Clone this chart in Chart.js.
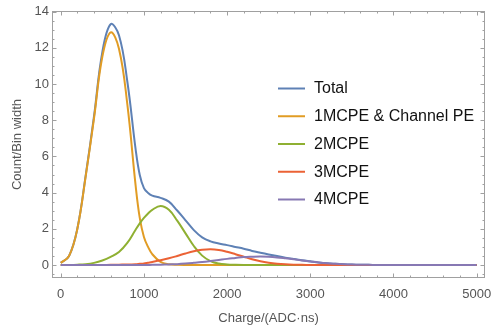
<!DOCTYPE html>
<html><head><meta charset="utf-8">
<script src="https://cdn.jsdelivr.net/npm/chart.js@4"></script>
<style>html,body{margin:0;padding:0;background:#fff;}canvas{display:block}</style>
</head><body>
<canvas id="c" width="493" height="326"></canvas>
<script>
// Charge values (ADC·ns) at which the curves were read
const charges = [0,100,200,300,400,500,600,700,800,900,950,1000,1050,1100,1200,1300,1400,1500,1600,1700,1800,1900,2000,2100,2200,2300,2400,2500,2600,2700,2800,2900,3000,3100,3200,3300,3400,3500,3600,3700,3800,3900,4000,4100,4200,4300,4400,4500,4600,4700,4800,4900,5000];
const total = [0.12,0.5,2.02,4.95,8.22,11.76,13.3,12.69,10.15,6.4,4.97,4.25,3.98,3.83,3.71,3.5,3.01,2.47,1.93,1.53,1.31,1.19,1.1,1.0,0.9,0.78,0.68,0.585,0.495,0.41,0.335,0.265,0.204,0.145,0.1,0.07,0.045,0.027,0.016,0.009,0.005,0,0,0,0,0,0,0,0,0,0,0,0];
const mcpe1 = [0.12,0.5,2.0,4.9,8.1,11.5,12.85,11.95,8.9,4.4,2.6,1.55,1.0,0.6,0.17,0.04,0.01,0,0,0,0,0,0,0,0,0,0,0,0,0,0,0,0,0,0,0,0,0,0,0,0,0,0,0,0,0,0,0,0,0,0,0,0];
const mcpe2 = [0,0.005,0.02,0.05,0.12,0.25,0.45,0.72,1.22,1.95,2.3,2.6,2.85,3.05,3.26,3.05,2.45,1.75,1.05,0.52,0.22,0.08,0.03,0.01,0,0,0,0,0,0,0,0,0,0,0,0,0,0,0,0,0,0,0,0,0,0,0,0,0,0,0,0,0];
const mcpe3 = [0,0,0,0,0,0.005,0.01,0.02,0.03,0.05,0.07,0.09,0.13,0.17,0.26,0.37,0.5,0.64,0.76,0.84,0.87,0.83,0.73,0.6,0.46,0.32,0.21,0.13,0.075,0.04,0.02,0.01,0.004,0,0,0,0,0,0,0,0,0,0,0,0,0,0,0,0,0,0,0,0];
const mcpe4 = [0,0,0,0,0,0,0,0,0,0,0.003,0.006,0.008,0.01,0.02,0.035,0.05,0.08,0.12,0.165,0.22,0.28,0.34,0.39,0.44,0.46,0.47,0.455,0.42,0.37,0.315,0.255,0.2,0.145,0.1,0.07,0.045,0.027,0.016,0.009,0.005,0,0,0,0,0,0,0,0,0,0,0,0];

const seriesNames = ['Total','1MCPE & Channel PE','2MCPE','3MCPE','4MCPE'];
const seriesValues = [total, mcpe1, mcpe2, mcpe3, mcpe4];
const seriesColors = ['#5E81B5','#E19C24','#8FB032','#EB6235','#8778B3'];

const xTickLabels = [0,1000,2000,3000,4000,5000];
const yTickLabels = [0,2,4,6,8,10,12,14];
const xMinorTicks = [200,400,600,800,1200,1400,1600,1800,2200,2400,2600,2800,3200,3400,3600,3800,4200,4400,4600,4800];
const yMinorTicks = [-0.5,0.5,1,1.5,2.5,3,3.5,4.5,5,5.5,6.5,7,7.5,8.5,9,9.5,10.5,11,11.5,12.5,13,13.5];

const FONT = '"Liberation Sans", Arial, sans-serif';
const FRAME = '#a0a0a0';
const LABEL = '#555555';

const framePlugin = {
  id: 'frame',
  afterDatasetsDraw(chart) {
    const {ctx, chartArea: a, scales: {x, y}} = chart;
    ctx.save();
    ctx.strokeStyle = FRAME;
    ctx.lineWidth = 1;
    ctx.strokeRect(a.left + 0.5, a.top + 0.5, a.right - a.left - 1, a.bottom - a.top - 1);
    ctx.beginPath();
    const xt = (v, len) => {
      const px = Math.round(x.getPixelForValue(v)) + 0.5;
      ctx.moveTo(px, a.bottom); ctx.lineTo(px, a.bottom - len);
      ctx.moveTo(px, a.top); ctx.lineTo(px, a.top + len);
    };
    const yt = (v, len) => {
      const py = Math.round(y.getPixelForValue(v)) + 0.5;
      ctx.moveTo(a.left, py); ctx.lineTo(a.left + len, py);
      ctx.moveTo(a.right, py); ctx.lineTo(a.right - len, py);
    };
    xTickLabels.forEach(v => xt(v, 4.5));
    xMinorTicks.forEach(v => xt(v, 2.5));
    yTickLabels.forEach(v => yt(v, 4.5));
    yMinorTicks.forEach(v => yt(v, 2.5));
    ctx.stroke();
    ctx.restore();
  }
};

const legendPlugin = {
  id: 'mlegend',
  afterDraw(chart) {
    const ctx = chart.ctx;
    ctx.save();
    ctx.font = '16px ' + FONT;
    ctx.textBaseline = 'middle';
    ctx.fillStyle = '#111';
    seriesNames.forEach((name, i) => {
      const yy = 88.5 + i * 27.75;
      ctx.strokeStyle = seriesColors[i];
      ctx.lineWidth = 2;
      ctx.beginPath();
      ctx.moveTo(278, yy); ctx.lineTo(305, yy);
      ctx.stroke();
      ctx.fillText(name, 314, yy + 0.5);
    });
    ctx.restore();
  }
};

new Chart(document.getElementById('c'), {
  type: 'line',
  data: {
    datasets: seriesNames.map((name, i) => ({
      label: name,
      data: charges.map((c, j) => ({x: c, y: seriesValues[i][j]})),
      borderColor: seriesColors[i],
      backgroundColor: seriesColors[i],
      borderWidth: 2,
      pointRadius: 0,
      fill: false,
      tension: 0.4,
      order: seriesNames.length - i
    }))
  },
  options: {
    responsive: false,
    animation: false,
    devicePixelRatio: 1,
    layout: {padding: {top: 11, right: 8, left: 0, bottom: 0}},
    plugins: {legend: {display: false}, tooltip: {enabled: false}},
    scales: {
      x: {
        type: 'linear', min: -105, max: 5100,
        afterBuildTicks: s => { s.ticks = xTickLabels.map(v => ({value: v})); },
        afterFit: s => { s.height = 48; s.paddingLeft = 0; s.paddingRight = 0; },
        grid: {display: false, drawTicks: false},
        border: {display: false},
        ticks: {callback: v => String(v), color: LABEL, font: {family: FONT, size: 13}, padding: 9, maxRotation: 0, autoSkip: false},
        title: {display: true, text: 'Charge/(ADC·ns)', color: LABEL, font: {family: FONT, size: 13}, padding: {top: 0, bottom: 0}}
      },
      y: {
        type: 'linear', min: -0.716, max: 14.03,
        afterBuildTicks: s => { s.ticks = yTickLabels.map(v => ({value: v})); },
        afterFit: s => { s.width = 52; s.paddingTop = 0; s.paddingBottom = 0; },
        grid: {display: false, drawTicks: false},
        border: {display: false},
        ticks: {callback: v => String(v), color: LABEL, font: {family: FONT, size: 13}, padding: 3, autoSkip: false},
        title: {display: true, text: 'Count/Bin width', color: LABEL, font: {family: FONT, size: 13}, padding: {top: 10, bottom: 0}}
      }
    }
  },
  plugins: [framePlugin, legendPlugin]
});
</script>
</body></html>
